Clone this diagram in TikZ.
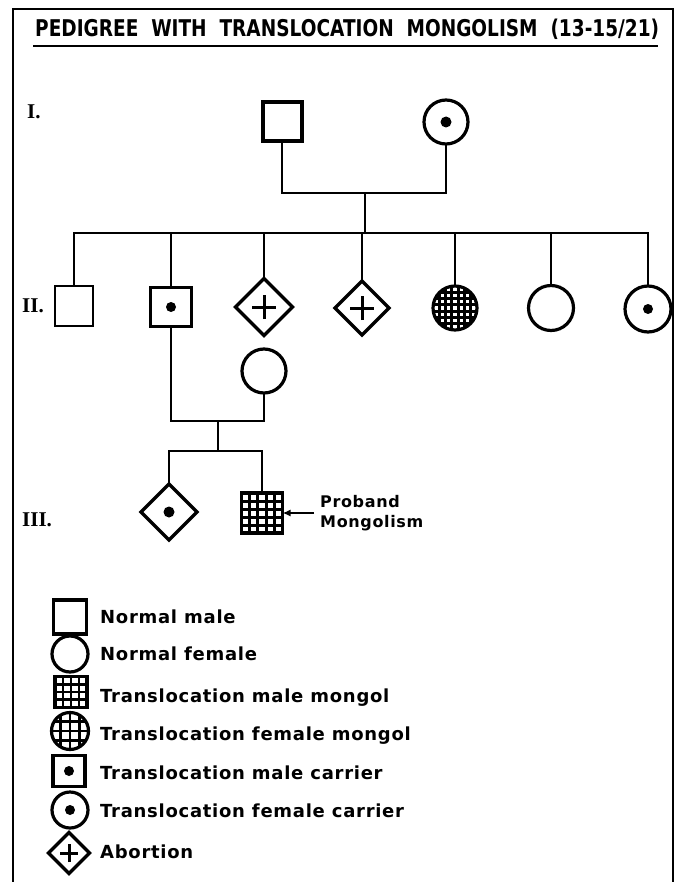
\documentclass[tikz,border=0pt]{standalone}
\usepackage{fontspec}
\usepackage{graphicx}
\usetikzlibrary{shapes.geometric,calc,arrows.meta}
\newfontfamily\titlef{DejaVu Sans}
\newfontfamily\lgd[LetterSpace=4]{DejaVu Sans}
\newfontfamily\romf{Liberation Serif}
\newcommand\lgdfont{\lgd\bfseries\fontsize{18}{22}\selectfont}
\newcommand\romfont{\romf\bfseries\fontsize{21}{24}\selectfont}
\begin{document}
\begin{tikzpicture}[x=1pt,y=-1pt,
  ln/.style={line width=2.8pt},
  ind/.style={draw, line width=3.2pt, fill=white, inner sep=0pt, outer sep=0pt},
  sq/.style 2 args={ind, rectangle, minimum width=#1, minimum height=#2},
  ci/.style={ind, circle, minimum size=#1},
  di/.style={ind, diamond, aspect=1, minimum width=#1, minimum height=#1},
  dot/.style={path picture={\fill[black] (path picture bounding box.center) circle (#1);}},
  plus/.style={path picture={\draw[black, line width=3pt]
      ($(path picture bounding box.center)+(-#1,0)$) -- ($(path picture bounding box.center)+(#1,0)$)
      ($(path picture bounding box.center)+(0,-#1)$) -- ($(path picture bounding box.center)+(0,#1)$);}},
  hatch/.style 2 args={path picture={
      \foreach \k in {1,...,#1}{
        \pgfmathsetmacro\f{\k/#1}
        \draw[black, line width=#2] ($(path picture bounding box.south west)!\f!(path picture bounding box.south east)$) -- ($(path picture bounding box.north west)!\f!(path picture bounding box.north east)$);
        \draw[black, line width=#2] ($(path picture bounding box.south west)!\f!(path picture bounding box.north west)$) -- ($(path picture bounding box.south east)!\f!(path picture bounding box.north east)$);
      }}},
  lt/.style={anchor=base west, inner sep=0pt, font=\lgdfont},
  rom/.style={anchor=base west, inner sep=0pt, font=\romfont}
]
\useasboundingbox[fill=white] (0,0) rectangle (680,882);

% frame and title
\coordinate (fBL) at (13,882);
\coordinate (fTL) at (13,9);
\coordinate (fTR) at (673,9);
\coordinate (fBR) at (673,882);
\draw[line width=2.6pt] (fBL) -- (fTL) -- (fTR) -- (fBR);
\node[anchor=base west, inner sep=0pt] (title) at (35,37)
  {\resizebox{624pt}{17.5pt}{\titlef\bfseries PEDIGREE\ \ WITH\ \ TRANSLOCATION\ \ MONGOLISM\ \ (13-15/21)}};
\coordinate (ulL) at (33,46);
\coordinate (ulR) at (658,46);
\draw[line width=2.8pt] (ulL) -- (ulR);

% generation labels
\node[rom] (gI) at (27,119) {I.};
\node[rom] (gII) at (22,312) {II.};
\node[rom] (gIII) at (22,526) {III.};

% generation I
\node[sq={39}{39}, line width=4pt] (I1) at (282,122) {};
\node[ci=44, dot=5.5pt] (I2) at (446,122) {};

% generation II
\node[sq={38}{40}, line width=2.8pt] (II1) at (74,306) {};
\node[sq={41}{39}, dot=5pt] (II2) at (171,307) {};
\node[di=57, plus=12pt] (II3) at (264,307) {};
\node[di=54, plus=12pt] (II4) at (362,308) {};
\node[ci=44, hatch={7}{2.8pt}] (II5) at (455,308) {};
\node[ci=45] (II6) at (551,308) {};
\node[ci=46, dot=5pt] (II7) at (648,309) {};

% spouse of II2
\node[ci=44] (S) at (264,371) {};

% generation III
\node[di=56, dot=5.5pt] (III1) at (169,512) {};
\node[sq={41}{40}, hatch={5}{3pt}] (III2) at (262,513) {};

% connectors
\coordinate (mar1) at (365,193);
\coordinate (sib1) at (365,233);
\draw[ln] (I1.south) |- (I2.south |- mar1) -- (I2.south);
\draw[ln] (mar1) -- (sib1);
\draw[ln] (II1.north) |- (II7.north |- sib1) -- (II7.north);
\foreach \n in {II2,II3,II4,II5,II6}{
  \draw[ln] (\n.north) -- (\n.north |- sib1);
}
\coordinate (mar2) at (218,421);
\coordinate (sib2) at (218,451);
\draw[ln] (II2.south) |- (S.south |- mar2) -- (S.south);
\draw[ln] (mar2) -- (sib2);
\draw[ln] (III1.north) |- (III2.north |- sib2) -- (III2.north);

% proband
\node[anchor=west, align=left, inner sep=0pt, font=\lgd\bfseries\fontsize{16}{20}\selectfont] (prob) at (320,513) {Proband\\Mongolism};
\draw[line width=2.2pt, -{Latex[length=8pt,width=7pt]}] ([xshift=-6pt]prob.west) -- (prob.west -| III2.east);

% legend
\node[sq={33}{34}] (L1) at (70,617) {};
\node[lt] (T1) at (100,623) {Normal male};
\node[ci=36] (L2) at (70,654) {};
\node[lt] (T2) at (100,660) {Normal female};
\node[sq={32}{31}, hatch={4}{2.8pt}] (L3) at (71,692) {};
\node[lt] (T3) at (100,702) {Translocation male mongol};
\node[ci=37, hatch={4}{2.8pt}] (L4) at (70,731) {};
\node[lt] (T4) at (100,740) {Translocation female mongol};
\node[sq={32}{31}, dot=5pt] (L5) at (69,771) {};
\node[lt] (T5) at (100,779) {Translocation male carrier};
\node[ci=36, dot=5pt] (L6) at (70,810) {};
\node[lt] (T6) at (100,817) {Translocation female carrier};
\node[di=41, plus=9pt] (L7) at (69,853) {};
\node[lt] (T7) at (100,858) {Abortion};
\end{tikzpicture}
\end{document}
